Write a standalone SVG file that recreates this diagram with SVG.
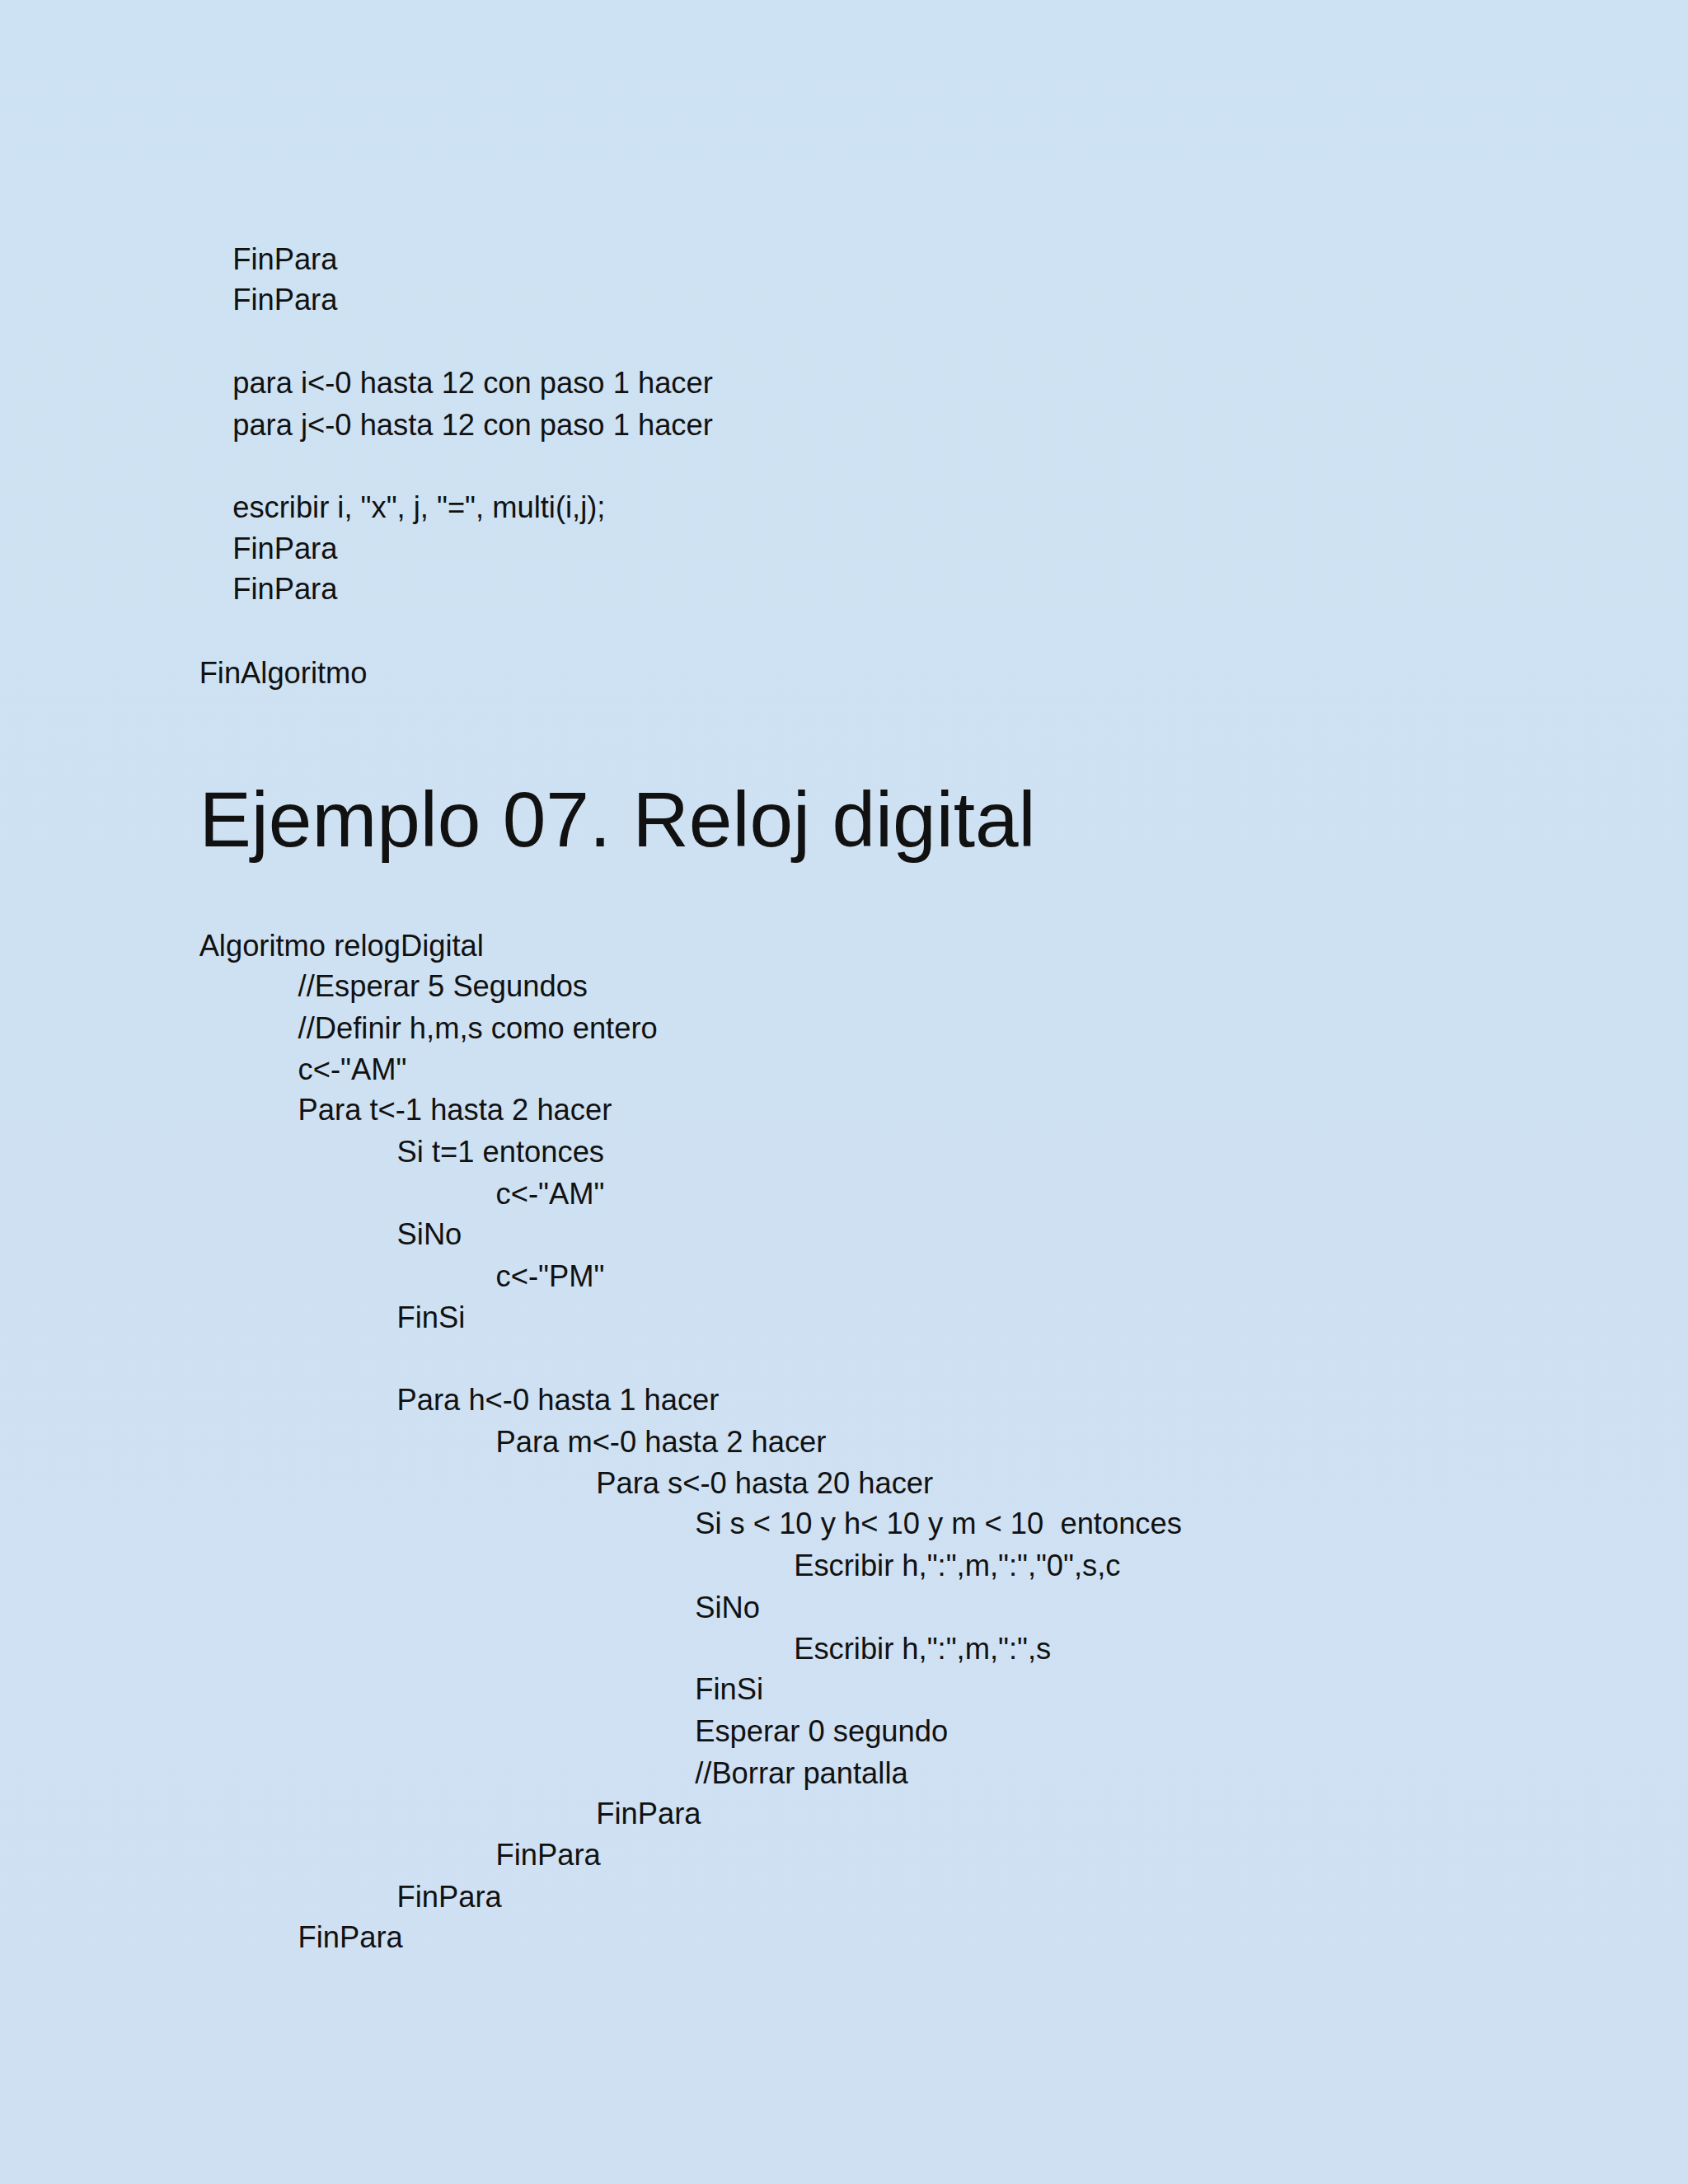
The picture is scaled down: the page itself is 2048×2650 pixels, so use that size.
<svg xmlns="http://www.w3.org/2000/svg" width="2048" height="2650" viewBox="0 0 2048 2650">
<defs><linearGradient id="bg" x1="0" y1="0" x2="0" y2="1"><stop offset="0" stop-color="#cde2f2"/><stop offset="1" stop-color="#cfe0f3"/></linearGradient></defs>
<style>text{font-family:"Liberation Sans",Arial,sans-serif;font-size:21.5px;fill:#111}.t{font-size:56px}</style>
<rect width="2048" height="2650" fill="url(#bg)"/>
<g transform="scale(1.6898)">
<text x="167" y="193.5">FinPara</text>
<text x="167" y="222.5">FinPara</text>
<text x="167" y="282.5">para i&lt;-0 hasta 12 con paso 1 hacer</text>
<text x="167" y="312.5">para j&lt;-0 hasta 12 con paso 1 hacer</text>
<text x="167" y="371.5">escribir i, "x", j, "=", multi(i,j);</text>
<text x="167" y="401.5">FinPara</text>
<text x="167" y="430.5">FinPara</text>
<text x="143" y="490.5">FinAlgoritmo</text>
<text x="143" y="608" class="t">Ejemplo 07. Reloj digital</text>
<text x="143" y="686.5">Algoritmo relogDigital</text>
<text x="214" y="715.5">//Esperar 5 Segundos</text>
<text x="214" y="745.5">//Definir h,m,s como entero</text>
<text x="214" y="775.5">c&lt;-"AM"</text>
<text x="214" y="804.5">Para t&lt;-1 hasta 2 hacer</text>
<text x="285" y="834.5">Si t=1 entonces</text>
<text x="356" y="864.5">c&lt;-"AM"</text>
<text x="285" y="893.5">SiNo</text>
<text x="356" y="923.5">c&lt;-"PM"</text>
<text x="285" y="953.5">FinSi</text>
<text x="285" y="1012.5">Para h&lt;-0 hasta 1 hacer</text>
<text x="356" y="1042.5">Para m&lt;-0 hasta 2 hacer</text>
<text x="428" y="1072.5">Para s&lt;-0 hasta 20 hacer</text>
<text x="499" y="1101.5" xml:space="preserve">Si s &lt; 10 y h&lt; 10 y m &lt; 10  entonces</text>
<text x="570" y="1131.5">Escribir h,":",m,":","0",s,c</text>
<text x="499" y="1161.5">SiNo</text>
<text x="570" y="1191.5">Escribir h,":",m,":",s</text>
<text x="499" y="1220.5">FinSi</text>
<text x="499" y="1250.5">Esperar 0 segundo</text>
<text x="499" y="1280.5">//Borrar pantalla</text>
<text x="428" y="1309.5">FinPara</text>
<text x="356" y="1339.5">FinPara</text>
<text x="285" y="1369.5">FinPara</text>
<text x="214" y="1398.5">FinPara</text>
</g>
</svg>
